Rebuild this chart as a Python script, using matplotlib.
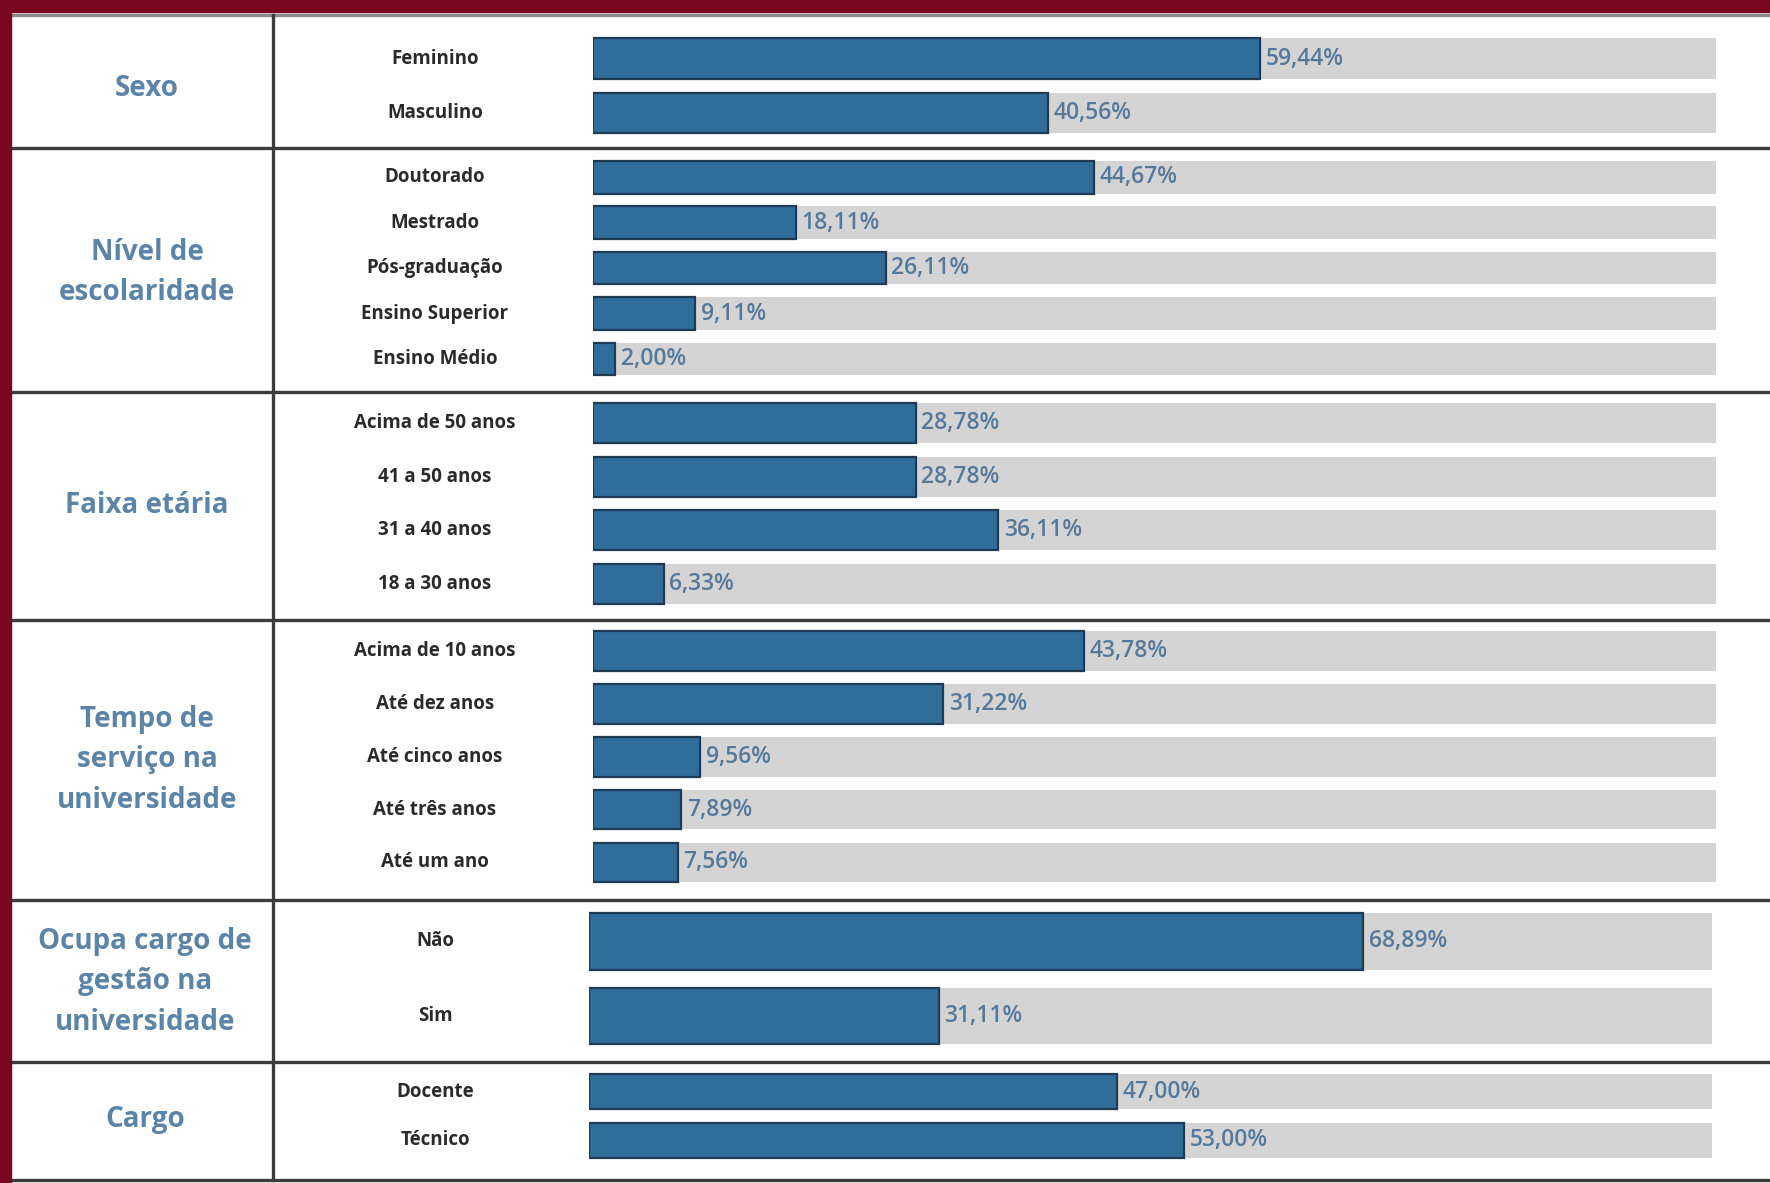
import matplotlib.pyplot as plt
from matplotlib.patches import Rectangle
from matplotlib.lines import Line2D

plt.rcParams['font.family'] = ['Open Sans', 'DejaVu Sans']

# dados (percentuais)
grupos = ["Sexo", "Nível de\nescolaridade", "Faixa etária",
          "Tempo de\nserviço na\nuniversidade",
          "Ocupa cargo de\ngestão na\nuniversidade", "Cargo"]

sexo_cat = ["Feminino", "Masculino"]
sexo_val = [59.44, 40.56]

escol_cat = ["Doutorado", "Mestrado", "Pós-graduação", "Ensino Superior", "Ensino Médio"]
escol_val = [44.67, 18.11, 26.11, 9.11, 2.00]

idade_cat = ["Acima de 50 anos", "41 a 50 anos", "31 a 40 anos", "18 a 30 anos"]
idade_val = [28.78, 28.78, 36.11, 6.33]

tempo_cat = ["Acima de 10 anos", "Até dez anos", "Até cinco anos", "Até três anos", "Até um ano"]
tempo_val = [43.78, 31.22, 9.56, 7.89, 7.56]

gestao_cat = ["Não", "Sim"]
gestao_val = [68.89, 31.11]

cargo_cat = ["Docente", "Técnico"]
cargo_val = [47.00, 53.00]

series = [(sexo_cat, sexo_val), (escol_cat, escol_val), (idade_cat, idade_val),
          (tempo_cat, tempo_val), (gestao_cat, gestao_val), (cargo_cat, cargo_val)]

# layout em pixels (referência 1770x1183)
W, H = 1770, 1183
divisores = [15, 148, 392, 620, 900, 1062, 1180]
centro_grupo = [89, 272, 506, 760, 982, 1120]
x_grupo = [147, 147, 147, 147, 145, 145]
faixas_eixo = [(31.6, 140.0), (154.5, 381.7), (396.6, 610.3),
               (624.9, 888.8), (904.2, 1053.2), (1067.3, 1164.4)]
x_barra = [(592.6, 1715.8)] * 4 + [(589.2, 1712.4)] * 2
alturas = [0.75, 0.72, 0.75, 0.75, 0.76, 0.72]

AZUL = '#2f6d9a'
BORDA = '#1e3a55'
CINZA = '#d4d4d4'
COR_GRUPO = '#5b84a6'
COR_VALOR = '#56799a'
COR_ROTULO = '#2a2a2a'
VINHO = '#7a0620'

fig = plt.figure(figsize=(W / 100, H / 100), dpi=100)
fig.patch.set_facecolor('white')

for k, ((cats, vals), (top, bot), (x0, x1), h) in enumerate(zip(series, faixas_eixo, x_barra, alturas)):
    ax = fig.add_axes([x0 / W, 1 - bot / H, (x1 - x0) / W, (bot - top) / H])
    n = len(cats)
    pos = list(range(n))
    ax.barh(pos, [100] * n, height=h, color=CINZA, linewidth=0)
    ax.barh(pos, vals, height=h, color=AZUL, edgecolor=BORDA, linewidth=1.6)
    for i, v in zip(pos, vals):
        ax.text(v + 0.5, i, f"{v:.2f}".replace('.', ',') + '%', va='center', ha='left',
                fontsize=16.5, color=COR_VALOR, fontweight='semibold')
    lx = (435 - x0) / (x1 - x0)
    for i, c in zip(pos, cats):
        ax.text(lx, i, c, transform=ax.get_yaxis_transform(), ha='center', va='center',
                fontsize=13.5, color=COR_ROTULO, fontweight='bold')
    ax.set_xlim(0, 100)
    ax.set_ylim(n - 0.5, -0.5)
    ax.axis('off')

    fig.text(x_grupo[k] / W, 1 - centro_grupo[k] / H, grupos[k], ha='center', va='center',
             fontsize=20, color=COR_GRUPO, fontweight='bold', linespacing=1.5)

# linhas da tabela
for i, y in enumerate(divisores):
    cor = '#8a8a8a' if i == 0 else '#3c3c3c'
    fig.add_artist(Line2D([11 / W, 1], [1 - y / H] * 2, color=cor, lw=2.4))
fig.add_artist(Line2D([273 / W] * 2, [1 - 15 / H, 1 - 1180 / H], color='#3c3c3c', lw=2.4))

# moldura vinho
fig.add_artist(Rectangle((0, 0), 11 / W, 1, transform=fig.transFigure, color=VINHO, zorder=5))
fig.add_artist(Rectangle((0, 1 - 12 / H), 1, 12 / H, transform=fig.transFigure, color=VINHO, zorder=5))

plt.savefig('out.png', dpi=100)
